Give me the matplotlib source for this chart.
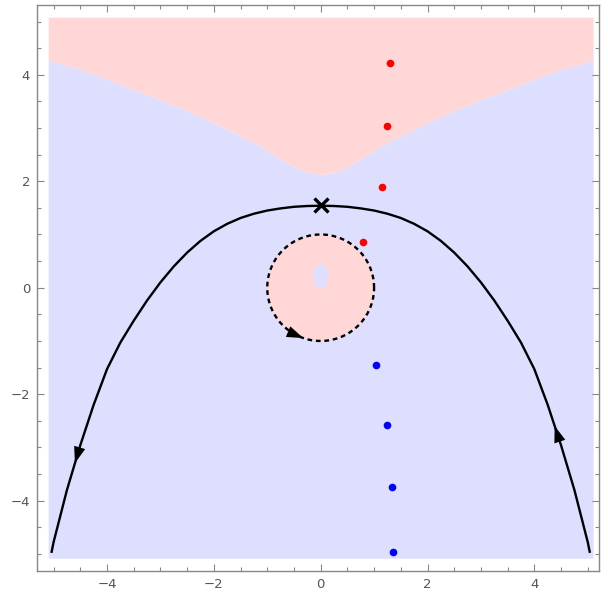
import matplotlib
matplotlib.use('Agg')
import numpy as np
import matplotlib.pyplot as plt
from matplotlib.patches import Circle, Ellipse
from matplotlib.ticker import MultipleLocator

# ---- data ----
# upper boundary of the pink region (symmetric in x)
bnd_x_half = [0.0, 0.25, 0.5, 0.75, 1.0, 1.25, 1.5, 2.0, 2.5, 3.0, 3.5, 4.0, 4.5, 5.1]
bnd_y_half = [2.13, 2.16, 2.27, 2.42, 2.58, 2.72, 2.85, 3.10, 3.33, 3.53, 3.72, 3.92, 4.10, 4.27]

# black trajectory (symmetric in x)
crv_x_half = [0.0, 0.25, 0.5, 0.75, 1.0, 1.25, 1.5, 1.75, 2.0, 2.25, 2.5, 2.75,
              3.0, 3.25, 3.5, 3.75, 4.0, 4.25, 4.5, 4.75, 5.0, 5.04]
crv_y_half = [1.54, 1.535, 1.52, 1.49, 1.45, 1.39, 1.31, 1.20, 1.06, 0.88, 0.66, 0.40,
              0.10, -0.24, -0.62, -1.03, -1.53, -2.20, -2.96, -3.80, -4.78, -4.98]

# circle and hole
circle_r = 1.0
hole_center = (0.0, 0.22)
hole_size = (0.28, 0.46)

# saddle / cross point
cross_pt = (0.0, 1.55)

# dots
red_x = [0.80, 1.14, 1.25, 1.30]
red_y = [0.86, 1.89, 3.03, 4.22]
blue_x = [1.04, 1.25, 1.33, 1.36]
blue_y = [-1.46, -2.58, -3.75, -4.97]

# arrow positions (x on curve) and angle on circle (degrees)
arrow_right_x = 4.38
arrow_left_x = -4.60
arrow_circle_deg = 251

region_lim = 5.08
xlim = (-5.31, 5.21)
ylim = (-5.32, 5.31)

pink = '#FFD7D7'
lav = '#DEDEFF'
gray = '#888888'

# ---- build arrays ----
bx = np.array(bnd_x_half)
by = np.array(bnd_y_half)
bnd_x = np.concatenate([-bx[::-1], bx[1:]])
bnd_y = np.concatenate([by[::-1], by[1:]])

cx = np.array(crv_x_half)
cy = np.array(crv_y_half)
# ordered in travel direction: from (+5,-5) up over the top to (-5,-5)
crv_x = np.concatenate([cx[::-1], -cx[1:]])
crv_y = np.concatenate([cy[::-1], cy[1:]])

fig = plt.figure(figsize=(6.08, 5.97), dpi=100)
ax = fig.add_axes([37/608, 26/597, 562/608, 566/597])

ax.fill_between(bnd_x, -region_lim, bnd_y, color=lav, lw=0, zorder=1)
ax.fill_between(bnd_x, bnd_y, region_lim, color=pink, lw=0, zorder=1)

ax.add_patch(Circle((0, 0), circle_r, fc=pink, ec='none', zorder=2))
ax.add_patch(Ellipse(hole_center, hole_size[0], hole_size[1], fc=lav, ec='none', zorder=3))

th = np.linspace(0, 2*np.pi, 400)
ax.plot(circle_r*np.cos(th), circle_r*np.sin(th), color='k', lw=1.7,
        ls=(0, (2.0, 1.6)), zorder=4)

ax.plot(crv_x, crv_y, color='k', lw=1.7, zorder=4, solid_capstyle='butt',
        solid_joinstyle='round')

def head(tip, base):
    ax.annotate('', xy=tip, xytext=base,
                arrowprops=dict(arrowstyle='-|>,head_length=0.95,head_width=0.33',
                                mutation_scale=12.5, color='k', lw=0,
                                shrinkA=0, shrinkB=0), zorder=6)

# right arrow: travelling upward (x decreasing)
rx = arrow_right_x
ry = np.interp(rx, cx, cy)
rb = np.interp(rx + 0.05, cx, cy)
head((rx, ry), (rx + 0.05, rb))
# left arrow: travelling downward (x decreasing)
lx = arrow_left_x
ly = np.interp(-lx, cx, cy)
lb = np.interp(-lx - 0.05, cx, cy)
head((lx, ly), (lx + 0.05, lb))
# circle arrow, counterclockwise
a1 = np.deg2rad(arrow_circle_deg)
a0 = np.deg2rad(arrow_circle_deg - 8)
head((circle_r*np.cos(a1), circle_r*np.sin(a1)), (circle_r*np.cos(a0), circle_r*np.sin(a0)))

ax.plot([cross_pt[0]], [cross_pt[1]], marker='x', color='k', ms=10, mew=2.4, zorder=7)

ax.plot(red_x, red_y, 'o', color='#FF0000', ms=5.5, mec='none', zorder=5)
ax.plot(blue_x, blue_y, 'o', color='#0000FF', ms=5.5, mec='none', zorder=5)

ax.set_xlim(*xlim)
ax.set_ylim(*ylim)
for s in ax.spines.values():
    s.set_color(gray)
    s.set_linewidth(1.0)
ax.xaxis.set_major_locator(MultipleLocator(2))
ax.yaxis.set_major_locator(MultipleLocator(2))
ax.xaxis.set_minor_locator(MultipleLocator(0.5))
ax.yaxis.set_minor_locator(MultipleLocator(0.5))
ax.tick_params(which='both', direction='in', top=True, right=True, color=gray,
               labelcolor='#555555', labelsize=9.5, width=0.8)
ax.tick_params(which='major', length=5, pad=5)
ax.tick_params(which='minor', length=3)

fig.savefig('out.png', dpi=100)
